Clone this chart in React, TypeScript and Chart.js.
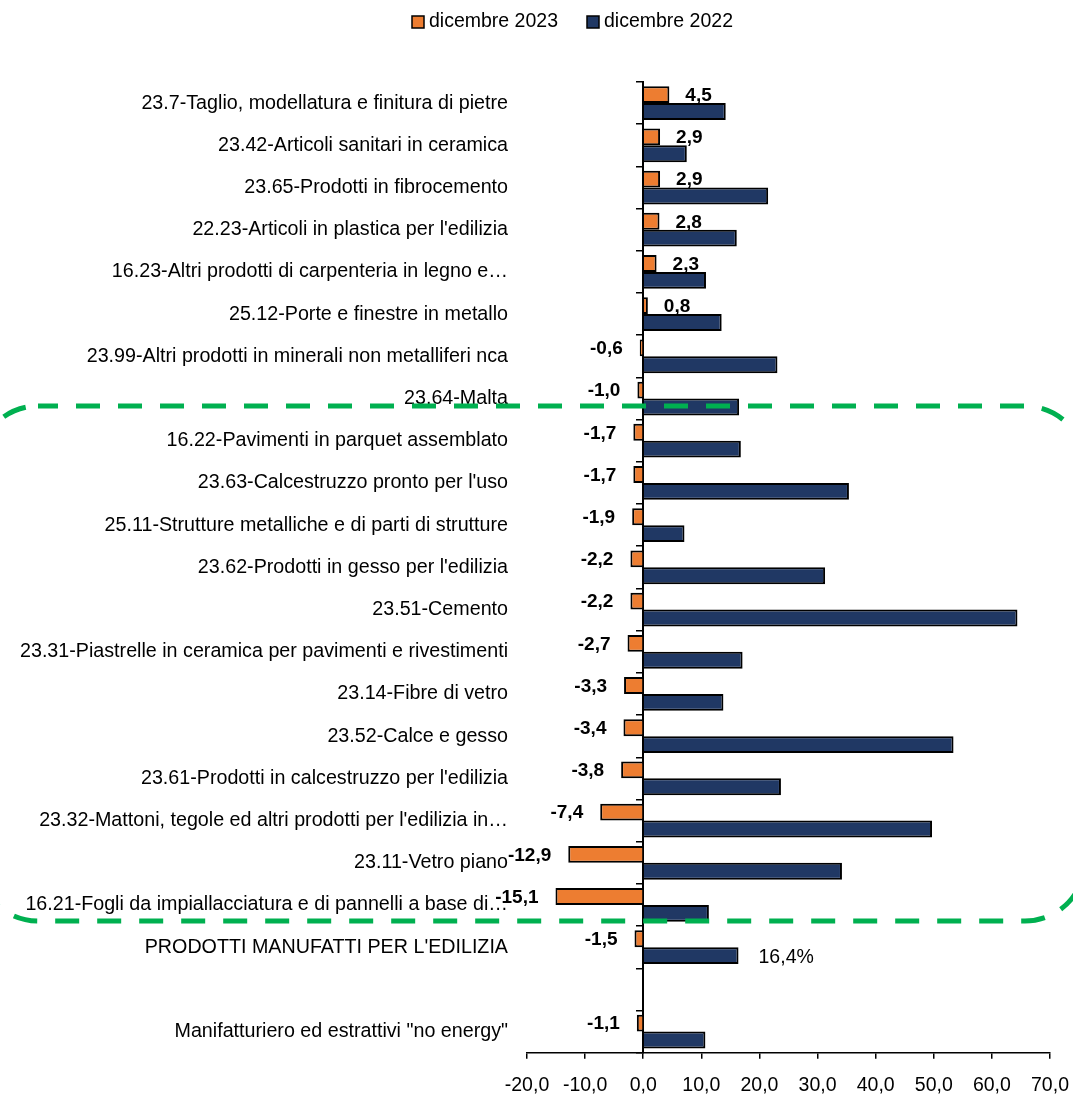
import React, { useEffect, useRef } from 'react';
import { Chart, registerables } from 'chart.js';

Chart.register(...registerables);

// ---- data ----
const categories: string[] = [
  '23.7-Taglio, modellatura e finitura di pietre',
  '23.42-Articoli sanitari in ceramica',
  '23.65-Prodotti in fibrocemento',
  "22.23-Articoli in plastica per l'edilizia",
  '16.23-Altri prodotti di carpenteria in legno e…',
  '25.12-Porte e finestre in metallo',
  '23.99-Altri prodotti in minerali non metalliferi nca',
  '23.64-Malta',
  '16.22-Pavimenti in parquet assemblato',
  "23.63-Calcestruzzo pronto per l'uso",
  '25.11-Strutture metalliche e di parti di strutture',
  "23.62-Prodotti in gesso per l'edilizia",
  '23.51-Cemento',
  '23.31-Piastrelle in ceramica per pavimenti e rivestimenti',
  '23.14-Fibre di vetro',
  '23.52-Calce e gesso',
  "23.61-Prodotti in calcestruzzo per l'edilizia",
  "23.32-Mattoni, tegole ed altri prodotti per l'edilizia in…",
  '23.11-Vetro piano',
  '16.21-Fogli da impiallacciatura e di pannelli a base di…',
  "PRODOTTI MANUFATTI PER L'EDILIZIA",
  '',
  'Manifatturiero ed estrattivi "no energy"',
];

const dic2023: (number | null)[] = [
  4.5, 2.9, 2.9, 2.8, 2.3, 0.8, -0.6, -1.0, -1.7, -1.7, -1.9, -2.2, -2.2, -2.7, -3.3, -3.4, -3.8, -7.4,
  -12.9, -15.1, -1.5, null, -1.1,
];

const dic2022: (number | null)[] = [
  14.2, 7.5, 21.5, 16.1, 10.8, 13.5, 23.1, 16.5, 16.8, 35.4, 7.1, 31.3, 64.4, 17.1, 13.8, 53.4, 23.7, 49.7,
  34.2, 11.3, 16.4, null, 10.7,
];

const notes2022: (string | null)[] = [
  null, null, null, null, null, null, null, null, null, null, null, null, null, null, null, null, null, null,
  null, null, '16,4%', null, null,
];

const seriesNames = ['dicembre 2023', 'dicembre 2022'];
const seriesColors = ['#ED7D31', '#203864'];

const xMin = -20;
const xMax = 70;
const xStep = 10;

const FONT = "'Liberation Sans', Arial, sans-serif";
const SZ = { cat: 19.7, tick: 19.5, legend: 19.5, value: 19, note: 19.5 };

const fmt = (v: number) => v.toFixed(1).replace('.', ',');

const valueLabelsPlugin = {
  id: 'valueLabels',
  afterDatasetsDraw(chart: any) {
    const ctx = chart.ctx;
    ctx.save();
    ctx.fillStyle = '#000';
    ctx.textBaseline = 'middle';
    ctx.font = `bold ${SZ.value}px ${FONT}`;
    const meta0 = chart.getDatasetMeta(0);
    meta0.data.forEach((bar: any, i: number) => {
      const v = dic2023[i];
      if (v == null) return;
      const { x, y } = bar.getProps(['x', 'y'], true);
      if (v >= 0) {
        ctx.textAlign = 'left';
        ctx.fillText(fmt(v), x + 16, y + 1);
      } else {
        ctx.textAlign = 'right';
        ctx.fillText(fmt(v), x - 17, y + 1);
      }
    });
    ctx.font = `${SZ.note}px ${FONT}`;
    const meta1 = chart.getDatasetMeta(1);
    meta1.data.forEach((bar: any, i: number) => {
      const t = notes2022[i];
      if (!t) return;
      const { x, y } = bar.getProps(['x', 'y'], true);
      ctx.textAlign = 'left';
      ctx.fillText(t, x + 20, y + 2);
    });
    ctx.restore();
  },
};

const legendPlugin = {
  id: 'customLegend',
  afterDraw(chart: any) {
    const ctx = chart.ctx;
    const items = [
      { x: 412, label: chart.data.datasets[0].label, color: chart.data.datasets[0].backgroundColor },
      { x: 587, label: chart.data.datasets[1].label, color: chart.data.datasets[1].backgroundColor },
    ];
    ctx.save();
    items.forEach((it) => {
      ctx.fillStyle = it.color;
      ctx.fillRect(it.x, 16, 12, 12);
      ctx.strokeStyle = '#000';
      ctx.lineWidth = 1.5;
      ctx.strokeRect(it.x, 16, 12, 12);
      ctx.fillStyle = '#000';
      ctx.font = `${SZ.legend}px ${FONT}`;
      ctx.textAlign = 'left';
      ctx.textBaseline = 'middle';
      ctx.fillText(it.label, it.x + 17, 22);
    });
    ctx.restore();
  },
};

const highlightPlugin = {
  id: 'highlight',
  afterDraw(chart: any) {
    const ctx = chart.ctx;
    ctx.save();
    ctx.strokeStyle = '#00B050';
    ctx.lineWidth = 5;
    ctx.setLineDash([24, 18]);
    ctx.lineDashOffset = 4;
    ctx.beginPath();
    const x = -22, y = 406, w = 1085 - -22, h = 921 - 406, r = 60;
    ctx.moveTo(x + r, y);
    ctx.lineTo(x + w - r, y);
    ctx.arcTo(x + w, y, x + w, y + r, r);
    ctx.lineTo(x + w, y + h - r);
    ctx.arcTo(x + w, y + h, x + w - r, y + h, r);
    ctx.lineTo(x + r, y + h);
    ctx.arcTo(x, y + h, x, y + h - r, r);
    ctx.lineTo(x, y + r);
    ctx.arcTo(x, y, x + r, y, r);
    ctx.closePath();
    ctx.stroke();
    ctx.restore();
  },
};

export default function App() {
  const canvasRef = useRef<HTMLCanvasElement | null>(null);

  useEffect(() => {
    if (!canvasRef.current) return;
    const chart = new Chart(canvasRef.current, {
      type: 'bar',
      data: {
        labels: categories,
        datasets: [
          {
            label: seriesNames[0],
            data: dic2023,
            backgroundColor: seriesColors[0],
            borderColor: '#000',
            borderWidth: 2,
            yAxisID: 'y',
            categoryPercentage: 0.8,
            barPercentage: 1.0,
          },
          {
            label: seriesNames[1],
            data: dic2022,
            backgroundColor: seriesColors[1],
            borderColor: '#000',
            borderWidth: 2,
            yAxisID: 'y',
            categoryPercentage: 0.8,
            barPercentage: 1.0,
          },
        ],
      },
      options: {
        indexAxis: 'y',
        responsive: false,
        animation: false,
        devicePixelRatio: 1,
        layout: { padding: { top: 82, right: 23, left: 0, bottom: 0 } },
        plugins: {
          legend: { display: false },
          tooltip: { enabled: false },
        },
        scales: {
          y: {
            type: 'category',
            position: 'left',
            offset: true,
            grid: { display: false, drawTicks: false, offset: true },
            border: { display: false },
            ticks: {
              color: '#000',
              padding: 19,
              autoSkip: false,
              font: { family: FONT, size: SZ.cat },
            },
            afterFit: (s: any) => {
              s.width = 527;
            },
          },
          y2: {
            type: 'category',
            axis: 'y',
            position: { x: 0 },
            offset: true,
            grid: {
              display: true,
              drawOnChartArea: false,
              drawTicks: true,
              tickLength: 6,
              offset: true,
              color: '#000',
              lineWidth: 1.5,
            },
            border: { display: true, color: '#000', width: 2 },
            ticks: { display: false, autoSkip: false },
          },
          x: {
            type: 'linear',
            position: 'bottom',
            min: xMin,
            max: xMax,
            grid: {
              display: true,
              drawOnChartArea: false,
              drawTicks: true,
              tickLength: 6,
              color: '#000',
              lineWidth: 1.5,
            },
            border: { display: true, color: '#000', width: 1.5 },
            ticks: {
              stepSize: xStep,
              color: '#000',
              padding: 15,
              font: { family: FONT, size: SZ.tick },
              callback: (v: any) => fmt(Number(v)),
            },
            afterFit: (s: any) => {
              s.height = 41.3;
              s.paddingRight = 0;
              s.paddingLeft = 0;
            },
          },
        },
      } as any,
      plugins: [valueLabelsPlugin, legendPlugin, highlightPlugin],
    });
    return () => chart.destroy();
  }, []);

  return (
    <div style={{ position: 'fixed', left: 0, top: 0, width: 1073, height: 1094, background: '#fff' }}>
      <canvas ref={canvasRef} width={1073} height={1094} style={{ display: 'block', width: 1073, height: 1094 }} />
    </div>
  );
}
